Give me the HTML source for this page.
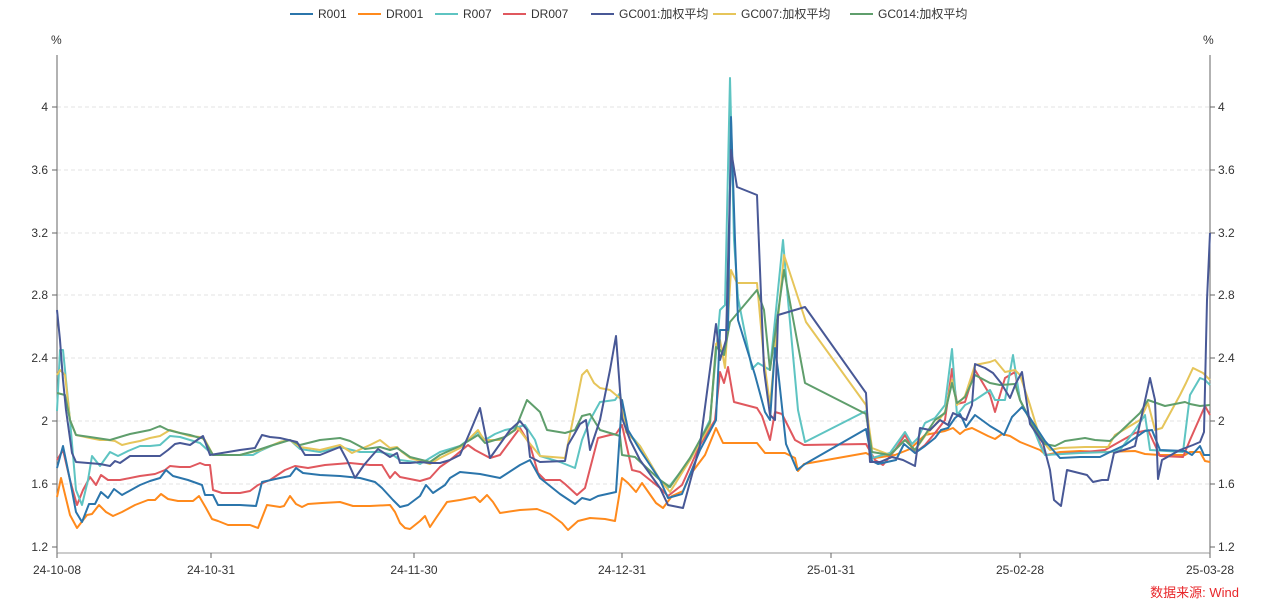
<!DOCTYPE html>
<html><head><meta charset="utf-8"><style>
body{margin:0;background:#fff;width:1265px;height:609px;overflow:hidden;font-family:"Liberation Sans","Noto Sans CJK SC",sans-serif}
svg text{font-family:"Liberation Sans","Noto Sans CJK SC",sans-serif;font-size:12px;fill:#333}
</style></head><body>
<svg width="1265" height="609" xmlns="http://www.w3.org/2000/svg">
<g stroke="#e3e3e3" stroke-dasharray="4,3" stroke-width="1">
<line x1="57" x2="1210" y1="107" y2="107"/><line x1="57" x2="1210" y1="170" y2="170"/><line x1="57" x2="1210" y1="233" y2="233"/><line x1="57" x2="1210" y1="295" y2="295"/><line x1="57" x2="1210" y1="358" y2="358"/><line x1="57" x2="1210" y1="421" y2="421"/><line x1="57" x2="1210" y1="484" y2="484"/>
</g>
<g stroke="#666" stroke-width="1">
<line x1="57" x2="57" y1="55" y2="555"/><line x1="1210" x2="1210" y1="55" y2="555"/>
<line x1="57" x2="1210" y1="553" y2="553" stroke="#999"/>
<line x1="52" x2="57" y1="107" y2="107"/><line x1="52" x2="57" y1="170" y2="170"/><line x1="52" x2="57" y1="233" y2="233"/><line x1="52" x2="57" y1="295" y2="295"/><line x1="52" x2="57" y1="358" y2="358"/><line x1="52" x2="57" y1="421" y2="421"/><line x1="52" x2="57" y1="484" y2="484"/><line x1="52" x2="57" y1="547" y2="547"/>
<line x1="1210" x2="1215" y1="107" y2="107"/><line x1="1210" x2="1215" y1="170" y2="170"/><line x1="1210" x2="1215" y1="233" y2="233"/><line x1="1210" x2="1215" y1="295" y2="295"/><line x1="1210" x2="1215" y1="358" y2="358"/><line x1="1210" x2="1215" y1="421" y2="421"/><line x1="1210" x2="1215" y1="484" y2="484"/><line x1="1210" x2="1215" y1="547" y2="547"/>
<line x1="57" x2="57" y1="553" y2="558"/><line x1="211" x2="211" y1="553" y2="558"/><line x1="414" x2="414" y1="553" y2="558"/><line x1="622" x2="622" y1="553" y2="558"/><line x1="831" x2="831" y1="553" y2="558"/><line x1="1020" x2="1020" y1="553" y2="558"/><line x1="1210" x2="1210" y1="553" y2="558"/>
</g>
<g text-anchor="end">
<text x="48" y="111">4</text><text x="48" y="174">3.6</text><text x="48" y="237">3.2</text><text x="48" y="299">2.8</text><text x="48" y="362">2.4</text><text x="48" y="425">2</text><text x="48" y="488">1.6</text><text x="48" y="551">1.2</text>
</g>
<g>
<text x="1218" y="111">4</text><text x="1218" y="174">3.6</text><text x="1218" y="237">3.2</text><text x="1218" y="299">2.8</text><text x="1218" y="362">2.4</text><text x="1218" y="425">2</text><text x="1218" y="488">1.6</text><text x="1218" y="551">1.2</text>
</g>
<text x="51" y="44">%</text><text x="1203" y="44">%</text>
<g text-anchor="middle">
<text x="57" y="574">24-10-08</text><text x="211" y="574">24-10-31</text><text x="414" y="574">24-11-30</text><text x="622" y="574">24-12-31</text><text x="831" y="574">25-01-31</text><text x="1020" y="574">25-02-28</text><text x="1210" y="574">25-03-28</text>
</g>
<text x="1239" y="597" text-anchor="end" style="fill:#e8262a;font-size:13px">数据来源: Wind</text>
<g fill="none" stroke-width="2" stroke-linejoin="round">
<polyline stroke="#ff8a1c" points="57,497 61,478 70,515 77,528 87,515 92,514 99,505 106,512 113,516 122,512 135,505 148,500 155,500 161,494 168,499 178,501 193,501 199,496 206,508 212,519 218,521 228,525 250,525 258,528 267,505 280,507 284,506 290,496 296,504 302,507 308,504 322,503 340,502 353,506 370,506 390,505 395,512 400,523 405,528 410,529 420,521 425,516 430,527 436,518 447,502 460,500 475,497 480,502 487,495 493,502 500,513 520,510 537,509 550,514 562,523 568,530 578,521 590,518 605,519 615,521 622,478 628,483 636,492 642,483 656,503 663,508 672,496 683,491 690,475 705,455 716,428 723,443 757,443 765,453 785,453 795,458 798,471 804,464 866,453 875,458 895,455 910,449 925,435 945,431 953,428 960,434 965,430 972,428 988,436 995,439 1002,434 1010,436 1020,442 1040,450 1046,455 1060,452 1080,451 1105,452 1135,451 1145,454 1160,455 1185,455 1190,452 1200,452 1205,461 1210,462"/>
<polyline stroke="#e0585e" points="57,460 63,450 70,480 77,505 83,490 90,477 96,485 101,475 108,480 120,480 140,476 155,474 165,470 170,466 180,467 190,467 200,463 205,465 210,465 213,490 222,493 240,493 250,491 258,485 270,480 285,470 295,466 308,468 325,465 350,463 370,465 382,465 390,478 395,472 400,477 420,481 430,478 440,467 450,460 468,445 475,450 490,458 500,455 520,428 530,445 538,473 545,480 560,480 565,484 577,495 585,488 598,438 610,435 616,434 622,425 632,470 640,472 660,488 668,496 682,485 700,445 715,420 720,372 724,383 728,367 734,402 757,408 762,416 770,440 775,412 782,414 795,440 804,445 866,444 875,460 883,465 895,450 905,435 915,453 925,445 935,433 945,420 952,369 957,404 965,402 975,370 990,395 995,412 1005,378 1015,372 1020,400 1030,420 1045,455 1085,452 1105,450 1135,433 1148,430 1160,456 1183,457 1190,440 1205,406 1210,415"/>
<polyline stroke="#5ec4c2" points="57,411 60,350 63,350 70,420 76,490 82,505 88,480 92,456 100,466 110,452 118,456 128,451 140,446 150,446 160,445 170,436 180,437 190,440 200,443 213,455 240,455 253,455 260,451 280,442 290,440 300,449 320,452 340,447 360,452 380,452 393,455 400,460 415,462 420,464 440,452 460,446 478,432 485,440 495,434 505,430 515,428 525,425 535,440 540,456 560,462 575,468 582,440 590,420 600,402 615,400 620,393 626,430 640,446 660,480 668,488 690,460 710,420 720,310 725,305 730,78 734,240 738,298 752,369 758,363 770,370 783,240 788,300 798,410 805,442 866,411 872,458 890,453 905,432 912,444 918,438 925,423 935,418 945,405 952,349 957,415 965,405 975,400 990,390 995,400 1005,400 1013,355 1020,400 1030,420 1040,445 1045,455 1080,453 1110,452 1120,450 1135,430 1145,415 1150,450 1183,452 1190,395 1200,378 1205,380 1210,385"/>
<polyline stroke="#e6c55a" points="57,375 60,370 65,375 70,420 76,435 90,438 100,440 108,440 115,441 122,445 130,443 140,441 150,438 160,436 170,430 180,433 190,436 200,437 205,440 213,455 240,455 260,450 280,442 290,440 300,447 320,450 340,445 352,453 370,445 380,440 390,448 397,447 402,452 410,458 430,464 440,458 460,448 478,430 484,440 500,440 510,433 518,428 527,440 540,456 565,458 575,410 582,375 587,370 594,383 600,388 610,390 616,395 622,400 626,432 640,446 660,480 670,492 690,460 710,425 716,344 720,340 725,368 731,270 737,283 757,283 764,360 770,405 784,255 806,322 866,405 872,448 890,455 905,440 915,450 925,436 935,425 945,412 952,380 957,405 965,396 975,365 990,362 995,360 1005,372 1015,370 1020,375 1030,405 1040,438 1050,450 1060,448 1085,447 1108,447 1115,435 1140,420 1148,403 1155,430 1162,428 1180,395 1186,383 1193,368 1203,373 1210,380"/>
<polyline stroke="#5f9e6c" points="57,393 65,395 70,420 76,435 90,437 110,440 130,434 140,432 150,430 160,426 168,430 180,433 190,435 200,438 203,438 213,455 240,455 258,450 270,446 290,440 300,445 320,440 340,438 350,441 365,449 380,447 390,450 397,448 403,452 410,457 430,462 440,455 460,446 478,435 485,443 495,440 505,437 515,430 527,400 540,412 547,430 565,433 575,430 582,416 590,414 600,430 620,436 622,455 635,457 660,480 670,487 690,458 710,422 716,347 720,350 724,355 730,322 757,290 764,310 770,370 784,270 805,383 866,414 872,452 890,455 905,440 915,450 925,435 935,420 945,413 952,383 957,403 965,397 975,375 990,383 1000,385 1015,384 1020,400 1030,420 1045,444 1055,446 1065,441 1085,438 1095,440 1110,441 1120,432 1140,413 1148,400 1165,406 1185,402 1190,404 1200,406 1210,405"/>
<polyline stroke="#2b75ab" points="57,468 63,446 70,480 76,512 82,522 89,504 95,504 101,492 108,498 114,489 122,495 140,485 150,481 160,478 166,470 173,476 188,480 202,485 205,495 213,495 218,505 240,505 256,506 262,482 280,478 290,476 296,468 303,473 320,475 340,476 360,478 375,482 382,488 393,500 400,507 408,505 420,496 426,485 433,493 445,485 450,478 460,472 480,474 500,478 520,465 530,460 540,478 560,494 575,504 582,498 590,500 598,496 616,492 622,400 628,430 640,450 660,480 668,498 682,494 700,450 716,420 720,330 728,330 731,117 735,240 738,320 755,375 765,412 770,420 775,348 778,370 786,444 797,470 805,464 866,429 872,461 878,464 896,460 904,444 915,453 925,446 935,438 941,430 948,428 955,418 960,414 963,420 966,427 975,415 990,426 1000,432 1004,435 1012,417 1022,407 1030,418 1045,441 1060,458 1080,457 1100,457 1110,452 1125,445 1145,431 1152,430 1160,450 1185,451 1192,455 1200,446 1204,455 1210,455"/>
<polyline stroke="#485896" points="57,310 60,340 63,380 66,410 72,453 76,462 100,464 110,466 115,461 120,463 130,456 140,456 160,456 168,450 175,444 180,443 190,445 200,438 203,436 210,455 240,450 255,448 262,435 270,437 280,438 297,442 305,455 320,455 340,447 347,460 355,478 364,465 370,458 378,449 390,457 397,453 400,463 410,463 420,462 430,463 440,463 450,460 460,455 470,432 480,408 490,458 500,444 510,430 520,421 527,430 530,457 540,462 565,461 568,445 575,433 580,424 586,420 590,450 600,420 610,370 616,336 622,418 630,440 640,460 660,488 668,505 683,508 700,445 716,324 720,360 726,340 731,150 737,187 757,195 764,370 770,415 775,420 778,315 805,307 866,393 870,462 880,462 892,457 903,460 915,466 920,428 930,430 940,420 948,425 953,413 957,415 966,420 972,405 975,364 985,368 993,373 1001,383 1010,398 1016,383 1022,372 1030,424 1043,443 1050,470 1054,500 1061,506 1067,470 1087,475 1093,482 1102,480 1108,480 1114,453 1130,448 1135,446 1150,378 1155,400 1158,479 1162,460 1180,450 1193,445 1200,442 1204,432 1207,300 1210,233"/>
</g>
<g stroke-width="2">
<line x1="290" x2="313" y1="14" y2="14" stroke="#2b75ab"/><line x1="358" x2="381" y1="14" y2="14" stroke="#ff8a1c"/><line x1="435" x2="458" y1="14" y2="14" stroke="#5ec4c2"/><line x1="503" x2="526" y1="14" y2="14" stroke="#e0585e"/><line x1="591" x2="614" y1="14" y2="14" stroke="#485896"/><line x1="713" x2="736" y1="14" y2="14" stroke="#e6c55a"/><line x1="850" x2="873" y1="14" y2="14" stroke="#5f9e6c"/>
</g>
<g>
<text x="318" y="18">R001</text><text x="386" y="18">DR001</text><text x="463" y="18">R007</text><text x="531" y="18">DR007</text><text x="619" y="18">GC001:加权平均</text><text x="741" y="18">GC007:加权平均</text><text x="878" y="18">GC014:加权平均</text>
</g>
</svg>
</body></html>
